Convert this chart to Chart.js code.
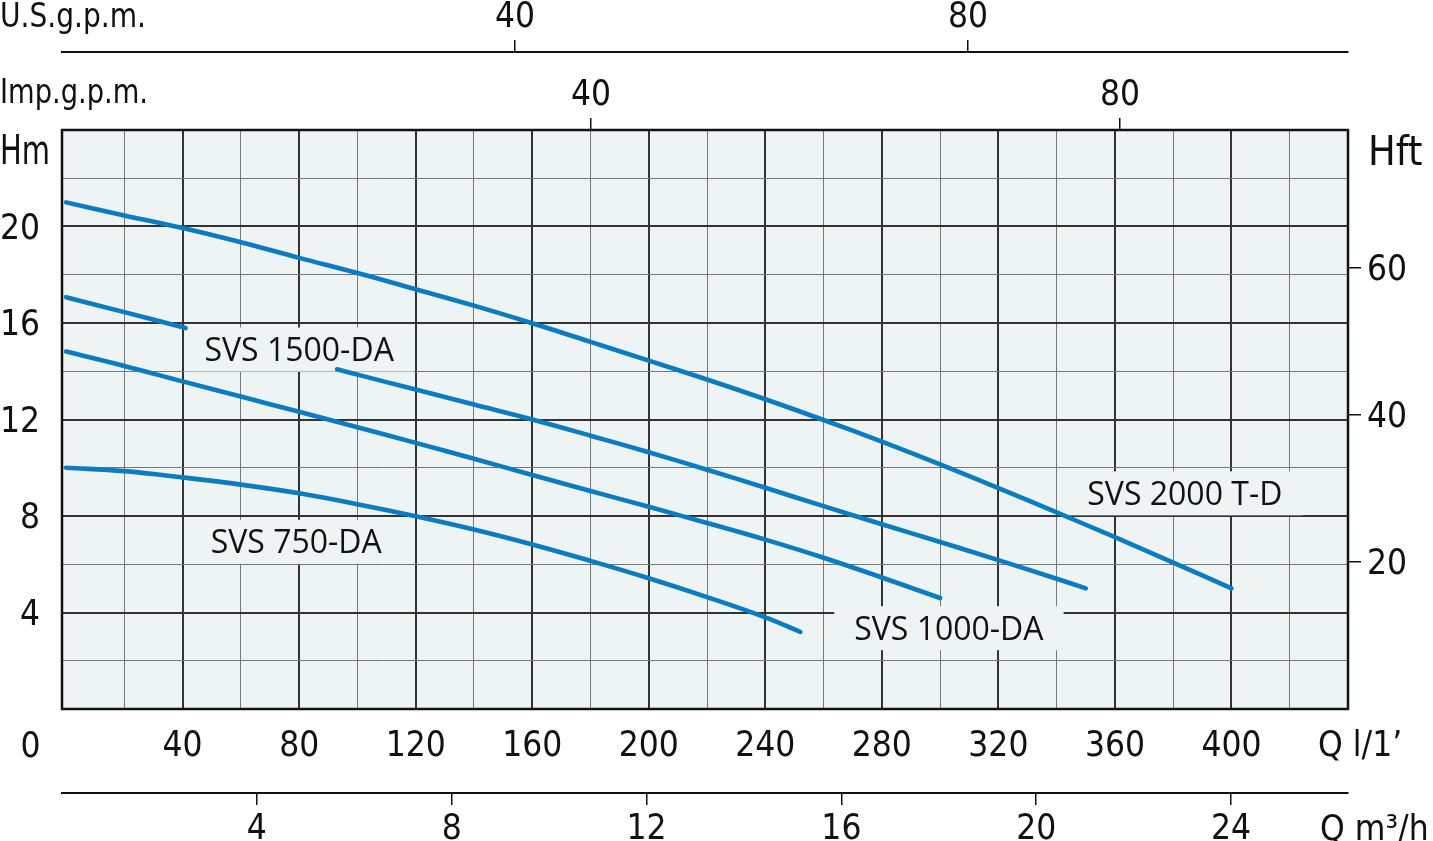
<!DOCTYPE html>
<html><head><meta charset="utf-8">
<script src="https://cdn.jsdelivr.net/npm/chart.js@4.4.1/dist/chart.umd.min.js"></script>
<style>html,body{margin:0;padding:0;background:#fff;}#wrap{width:1433px;height:841px;}</style>
</head><body><div id="wrap"><canvas id="c" width="1433" height="841"></canvas></div>
<script>
// ---- data (Q in l/min, H in m) ----
const Q_2000 = [0,20,40,60,80,100,120,140,160,180,200,220,240,260,280,300,320,340,360,380,400];
const H_2000 = [21.0,20.46,19.94,19.35,18.7,18.07,17.4,16.72,15.99,15.22,14.44,13.66,12.84,11.98,11.08,10.14,9.16,8.15,7.12,6.07,5.0];
const Q_1500 = [0,20,41,67,93,100,120,140,160,180,200,220,240,260,280,300,320,340,350];
const H_1500 = [17.07,16.45,15.79,null,14.08,13.86,13.24,12.62,12.0,11.33,10.64,9.92,9.17,8.41,7.66,6.92,6.17,5.4,5.0];
const Q_1000 = [0,20,40,60,80,100,120,140,160,180,200,220,240,260,280,300];
const H_1000 = [14.82,14.22,13.58,12.95,12.32,11.68,11.03,10.37,9.7,9.04,8.38,7.71,7.02,6.27,5.45,4.6];
const Q_750 = [0,20,40,60,80,100,120,140,160,180,200,220,240,252];
const H_750 = [10.0,9.86,9.6,9.3,8.94,8.49,7.99,7.44,6.82,6.14,5.42,4.64,3.8,3.2];

const SERIES_NAMES = ['SVS 2000 T-D','SVS 1500-DA','SVS 1000-DA','SVS 750-DA'];
// label anchors (Q l/min, H m)
const LABEL_Q = [384, 80, 303, 79];
const LABEL_H = [8.94, 14.9, 3.35, 6.93];

// ---- axes ----
const X_GRID = [20,40,60,80,100,120,140,160,180,200,220,240,260,280,300,320,340,360,380,400,420,440];
const X_LABELS = [40,80,120,160,200,240,280,320,360,400];
const H_GRID = [2,4,6,8,10,12,14,16,18,20,22];
const H_LABELS = [4,8,12,16,20];
const FT_TICKS = [20,40,60];
const M3_TICKS = [4,8,12,16,20,24];
const USGPM_TICKS = [40,80];
const IMPGPM_TICKS = [40,80];

const BLUE = '#0a7cc2';
const PLOT_BG = '#eef4f4';
const INK = '#111';
const TFAM = "'DejaVu Sans Condensed','DejaVu Sans',sans-serif";
const TICK_FONT = {family: TFAM, size: 35};

function mkData(qs, hs){ return qs.map((q,i)=>({x:q, y:hs[i]})); }
const SERIES = [[Q_2000,H_2000],[Q_1500,H_1500],[Q_1000,H_1000],[Q_750,H_750]];

function setTicks(arr){ return s => { s.ticks = arr.map(v=>({value:v})); }; }

function drawTextFit(ctx, text, x, y, font, align, maxW){
  ctx.save();
  ctx.font = font;
  ctx.textBaseline = 'alphabetic';
  const w = ctx.measureText(text).width;
  const sx = (maxW && w > maxW) ? maxW / w : 1;
  let x0 = x;
  if (align === 'center') x0 = x - w*sx/2;
  else if (align === 'right') x0 = x - w*sx;
  ctx.translate(x0, y);
  ctx.scale(sx, 1);
  ctx.textAlign = 'left';
  ctx.fillText(text, 0, 0);
  ctx.restore();
}

const decor = {
  id: 'decor',
  beforeDraw(chart){
    const {ctx, chartArea:a} = chart;
    ctx.save();
    ctx.fillStyle = PLOT_BG;
    ctx.fillRect(a.left, a.top, a.right-a.left, a.bottom-a.top);
    ctx.restore();
  },
  beforeDatasetsDraw(chart){
    const {ctx} = chart;
    const xs = chart.scales.x, ys = chart.scales.y;
    ctx.save();
    ctx.font = "32px 'Open Sans','Noto Sans',sans-serif";
    for (let i=0;i<SERIES_NAMES.length;i++){
      const cx = xs.getPixelForValue(LABEL_Q[i]);
      const cy = ys.getPixelForValue(LABEL_H[i]);
      const w = ctx.measureText(SERIES_NAMES[i]).width;
      ctx.fillStyle = PLOT_BG;
      ctx.fillRect(cx - w/2 - 20, cy - 22, w + 40, 44);
      ctx.fillStyle = INK;
      ctx.textAlign = 'center';
      ctx.textBaseline = 'alphabetic';
      ctx.fillText(SERIES_NAMES[i], cx, cy + 11.5);
    }
    ctx.restore();
  },
  afterDatasetsDraw(chart){
    const {ctx, chartArea:a} = chart;
    ctx.save();
    ctx.strokeStyle = INK;
    ctx.lineWidth = 2.5;
    ctx.strokeRect(a.left, a.top, a.right-a.left, a.bottom-a.top);
    ctx.restore();
  },
  afterDraw(chart){
    const {ctx, chartArea:a} = chart;
    ctx.save();
    ctx.fillStyle = INK;
    drawTextFit(ctx, 'U.S.g.p.m.', 0, 27, "33px "+TFAM, 'left', 146);
    drawTextFit(ctx, 'Imp.g.p.m.', 0, 103, "33px "+TFAM, 'left', 148);
    drawTextFit(ctx, 'Hm', 0, a.top + 34, "500 41px "+TFAM, 'left', 50);
    drawTextFit(ctx, 'Hft', a.right + 20, a.top + 35, "500 41px "+TFAM, 'left', 60);
    drawTextFit(ctx, '0', 30.5, a.bottom + 48, "35px "+TFAM, 'center');
    drawTextFit(ctx, 'Q l/1\u2019', a.right - 30, a.bottom + 47, "35px "+TFAM, 'left', 92);
    drawTextFit(ctx, 'Q m\u00B3/h', a.right - 28, a.bottom + 131, "35px "+TFAM, 'left', 112);
    ctx.restore();
  }
};

const datasets = SERIES.map(([q,h],i)=>({
  label: SERIES_NAMES[i],
  data: mkData(q,h),
  borderColor: BLUE,
  borderWidth: 4.6,
  borderCapStyle: 'round',
  borderJoinStyle: 'round',
  pointRadius: 0,
  fill: false,
  spanGaps: false,
  tension: 0.4,
  xAxisID: 'x', yAxisID: 'y'
}));

const majorX = c => (c.tick && c.tick.value % 40 === 0) ? '#333' : '#777';
const majorXW = c => (c.tick && c.tick.value % 40 === 0) ? 2 : 1;
const majorY = c => (c.tick && c.tick.value % 4 === 0) ? '#333' : '#777';
const majorYW = c => (c.tick && c.tick.value % 4 === 0) ? 2 : 1;

new Chart(document.getElementById('c'), {
  type: 'line',
  data: { datasets },
  options: {
    responsive: false,
    animation: false,
    devicePixelRatio: 1,
    layout: { padding: 0 },
    plugins: { legend: {display:false}, tooltip: {enabled:false} },
    scales: {
      x: {
        type:'linear', axis:'x', position:'bottom', weight:0, min:-1.4, max:440,
        afterBuildTicks: setTicks(X_GRID),
        afterFit: s => { s.height = 84; s.paddingLeft = 0; s.paddingRight = 0; },
        grid: { drawOnChartArea:true, drawTicks:false, color: majorX, lineWidth: majorXW },
        border: { display:false },
        ticks: { autoSkip:false, maxRotation:0, padding:17, color:INK, font:TICK_FONT,
                 callback: v => X_LABELS.includes(v) ? String(v) : '' }
      },
      m3: {
        type:'linear', axis:'x', position:'bottom', weight:1, min:0, max:26.4,
        afterBuildTicks: setTicks(M3_TICKS),
        afterFit: s => { s.height = 48; s.paddingLeft = 0; s.paddingRight = 0; },
        grid: { drawOnChartArea:false, drawTicks:true, tickLength:12, color:INK, lineWidth:1.5 },
        border: { display:true, color:INK, width:2 },
        ticks: { autoSkip:false, maxRotation:0, padding:4, color:INK, font:TICK_FONT }
      },
      imp: {
        type:'linear', axis:'x', position:'top', weight:0, min:0, max:97.24,
        afterBuildTicks: setTicks(IMPGPM_TICKS),
        afterFit: s => { s.height = 78; s.paddingLeft = 0; s.paddingRight = 0; },
        grid: { drawOnChartArea:false, drawTicks:true, tickLength:12, color:INK, lineWidth:1.5 },
        border: { display:false },
        ticks: { autoSkip:false, maxRotation:0, padding:1.5, color:INK, font:TICK_FONT }
      },
      us: {
        type:'linear', axis:'x', position:'top', weight:1, min:0, max:113.55,
        afterBuildTicks: setTicks(USGPM_TICKS),
        afterFit: s => { s.height = 52; s.paddingLeft = 0; s.paddingRight = 0; },
        grid: { drawOnChartArea:false, drawTicks:true, tickLength:12, color:INK, lineWidth:1.5 },
        border: { display:true, color:INK, width:2 },
        ticks: { autoSkip:false, maxRotation:0, padding:1.5, color:INK, font:TICK_FONT }
      },
      y: {
        type:'linear', axis:'y', position:'left', min:0, max:24,
        afterBuildTicks: setTicks(H_GRID),
        afterFit: s => { s.width = 62; s.paddingTop = 0; s.paddingBottom = 0; },
        grid: { drawOnChartArea:true, drawTicks:false, color: majorY, lineWidth: majorYW },
        border: { display:false },
        ticks: { autoSkip:false, padding:22, labelOffset:3, color:INK, font:TICK_FONT,
                 callback: v => H_LABELS.includes(v) ? String(v) : '' }
      },
      ft: {
        type:'linear', axis:'y', position:'right', min:0, max:78.74,
        afterBuildTicks: setTicks(FT_TICKS),
        afterFit: s => { s.width = 85; s.paddingTop = 0; s.paddingBottom = 0; },
        grid: { drawOnChartArea:false, drawTicks:true, tickLength:13, color:INK, lineWidth:1.5 },
        border: { display:false },
        ticks: { autoSkip:false, padding:6, labelOffset:3, color:INK, font:TICK_FONT }
      }
    }
  },
  plugins: [decor]
});
</script>
</body></html>
